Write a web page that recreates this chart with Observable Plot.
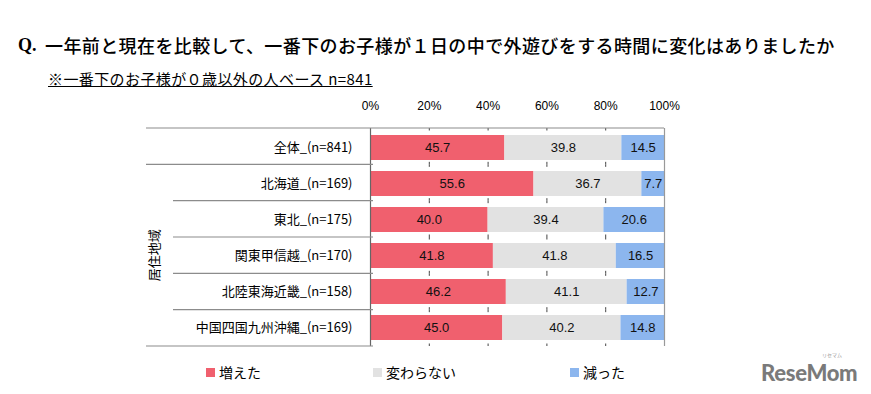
<!DOCTYPE html>
<html>
<head>
<meta charset="utf-8">
<script src="https://cdn.jsdelivr.net/npm/d3@7"></script>
<script src="https://cdn.jsdelivr.net/npm/@observablehq/plot@0.6"></script>
<style>
  html, body { margin: 0; padding: 0; background: #fff; }
  #wrap { position: relative; width: 871px; height: 394px; overflow: hidden; font-family: "Noto Sans CJK JP", sans-serif; color: #000; }
  #chart { position: absolute; left: 0; top: 0; }
  .abs { position: absolute; white-space: nowrap; line-height: 1; }
  .sw { display: inline-block; width: 9px; height: 9px; margin-right: 4px; vertical-align: 1px; }
</style>
</head>
<body>
<div id="wrap">
  <div id="chart"></div>
  <div class="abs" style="left:18px; top:36px; font-size:18px; font-weight:bold; font-family:'Liberation Serif', serif;">Q.</div>
  <div class="abs" style="left:45px; top:36px; font-size:18px; font-weight:500; letter-spacing:0.4px;" id="title"></div>
  <div class="abs" style="left:48px; top:71px; font-size:15px; letter-spacing:0.4px; text-decoration:underline;" id="subtitle"></div>
  <div id="legend"></div>
  <div class="abs" style="left:761px; top:362px; font-size:22px; font-weight:900; font-family:Lato, sans-serif; color:#7a7a7a; letter-spacing:-0.3px;">ReseMom</div>
  <div class="abs" style="left:822px; top:352px; font-size:5px; color:#999;">リセマム</div>
</div>
<script>
// ---- data ----
const titleText = "一年前と現在を比較して、一番下のお子様が１日の中で外遊びをする時間に変化はありましたか";
const subtitleText = "※一番下のお子様が０歳以外の人ベース n=841";
const groupLabel = "居住地域";
const categories = [
  "全体_(n=841)",
  "北海道_(n=169)",
  "東北_(n=175)",
  "関東甲信越_(n=170)",
  "北陸東海近畿_(n=158)",
  "中国四国九州沖縄_(n=169)"
];
const seriesNames = ["増えた", "変わらない", "減った"];
const increased = [45.7, 55.6, 40.0, 41.8, 46.2, 45.0];
const unchanged = [39.8, 36.7, 39.4, 41.8, 41.1, 40.2];
const decreased = [14.5, 7.7, 20.6, 16.5, 12.7, 14.8];
const xTicks = [0, 20, 40, 60, 80, 100];
const seriesColors = ["#f0606e", "#e2e2e2", "#8cb6ee"];

// ---- build table ----
const seriesValues = [increased, unchanged, decreased];
const rows = [];
categories.forEach((c, i) => {
  seriesNames.forEach((s, j) => rows.push({cat: c, series: s, value: seriesValues[j][i]}));
});

document.getElementById("title").textContent = titleText;
document.getElementById("subtitle").textContent = subtitleText;

const W = 871, H = 394, ML = 370, MR = 207, MT = 128, MB = 48;
const step = (H - MT - MB) / categories.length;
const dash = 2.5;

// frame / separator lines and rotated group label, positioned from the y scale range
function frameMark(index, scales, values, dims) {
  const x = scales.x, y = scales.y;
  const [r0, r1] = y.range();
  const n = categories.length;
  const st = (r1 - r0) / n;
  const x0 = x(0), x100 = x(100);
  const g = d3.create("svg:g");
  for (let i = 0; i <= n; i++) {
    const b = r0 + i * st;
    const outer = i <= 1 || i === n;
    g.append("line")
      .attr("x1", outer ? x0 - 224 : x0 - 197)
      .attr("x2", i === 0 ? x100 : x0 + 3)
      .attr("y1", b).attr("y2", b)
      .attr("stroke", "#8c8c8c").attr("stroke-width", 1.2);
  }
  const cy = (r0 + st + r1) / 2;
  g.append("text")
    .attr("transform", `translate(${x0 - 217},${cy}) rotate(-90)`)
    .attr("text-anchor", "middle").attr("dominant-baseline", "central")
    .attr("font-size", 13).attr("fill", "#000")
    .text(groupLabel);
  return g.node();
}

const chart = Plot.plot({
  width: W, height: H,
  marginLeft: ML, marginRight: MR, marginTop: MT, marginBottom: MB,
  style: {fontFamily: "'Noto Sans CJK JP', sans-serif", fontSize: "13px", background: "transparent", color: "#000"},
  x: {domain: [0, 100], label: null},
  y: {domain: categories, paddingInner: 0.31, paddingOuter: 0.155, label: null},
  color: {domain: seriesNames, range: seriesColors},
  marks: [
    Plot.ruleX(xTicks.slice(1, -1), {stroke: "#444", strokeWidth: 1, strokeDasharray: `${dash},${step - 2 * dash},${dash},0`}),
    Plot.barX(rows, Plot.stackX({y: "cat", x: "value", fill: "series", order: seriesNames})),
    Plot.text(rows, Plot.stackX({y: "cat", x: "value", z: "series", order: seriesNames,
      text: d => d.value.toFixed(1), fill: "#111", fontSize: 13, fontFamily: "'Liberation Sans', Arial, sans-serif"})),
    Plot.ruleX([0], {stroke: "#666", strokeWidth: 1.2}),
    Plot.ruleX([100], {stroke: "#999", strokeWidth: 1.2}),
    frameMark,
    Plot.axisX({anchor: "top", ticks: xTicks, tickFormat: d => d + "%", tickSize: 0, tickPadding: 19,
      fontSize: 12, fontFamily: "'Liberation Sans', Arial, sans-serif", label: null}),
    Plot.axisY({tickSize: 0, tickPadding: 18, fontSize: 13, label: null})
  ]
});
document.getElementById("chart").appendChild(chart);

// legend
const legendX = [206, 373, 570];
const legend = document.getElementById("legend");
seriesNames.forEach((s, i) => {
  const d = document.createElement("div");
  d.className = "abs";
  d.style.left = legendX[i] + "px";
  d.style.top = "365px";
  d.style.fontSize = "14px";
  d.innerHTML = `<span class="sw" style="background:${seriesColors[i]}"></span>${s}`;
  legend.appendChild(d);
});
</script>
</body>
</html>
